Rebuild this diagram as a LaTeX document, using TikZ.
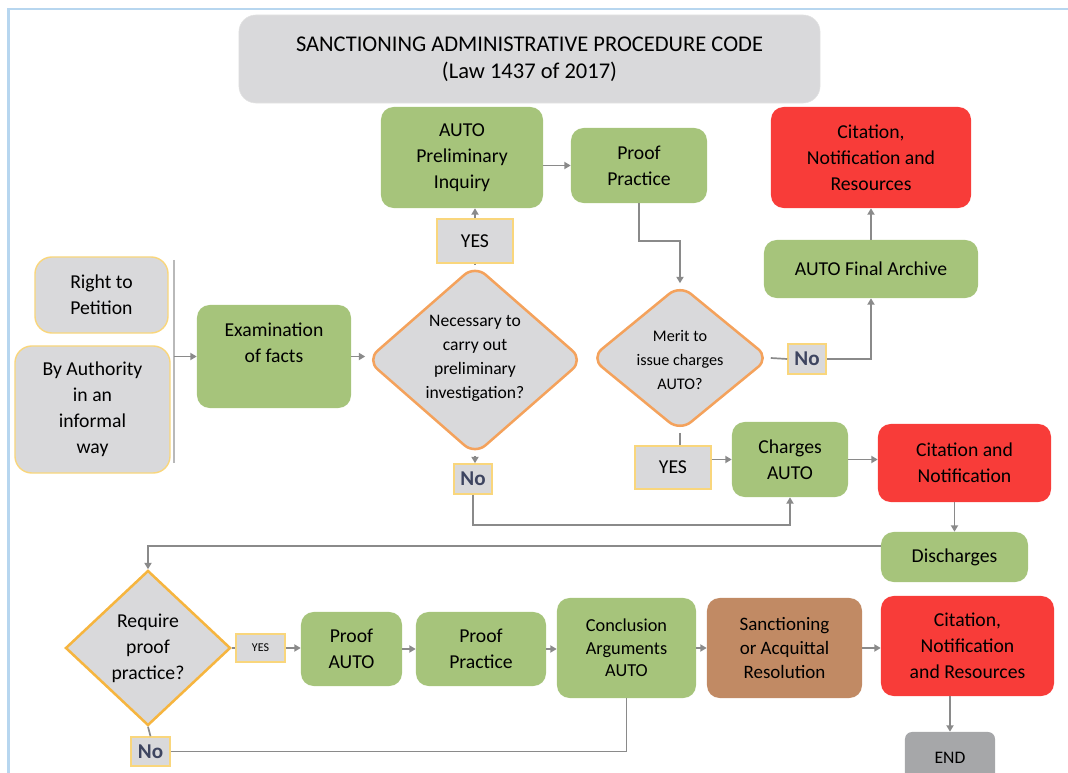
\documentclass[tikz,border=0pt]{standalone}
\usepackage{fontspec}
\setmainfont{Carlito}
\usetikzlibrary{shapes.geometric, arrows.meta}
\definecolor{boxgreen}{HTML}{A6C47B}
\definecolor{boxred}{HTML}{F83C39}
\definecolor{boxgray}{HTML}{D9D9DB}
\definecolor{boxbrown}{HTML}{C18A64}
\definecolor{endgray}{HTML}{A6A7A9}
\definecolor{lineyellow}{HTML}{F9D67C}
\definecolor{lineorange}{HTML}{F4A25C}
\definecolor{linegold}{HTML}{F6B53F}
\definecolor{conngray}{HTML}{8A8A8A}
\definecolor{frameblue}{HTML}{B7D6EF}
\definecolor{notext}{HTML}{3E4560}

\begin{document}
\begin{tikzpicture}[x=0.025cm, y=-0.025cm, >={Triangle[length=4.5pt,width=5pt]},
            every node/.style={align=center, inner sep=0pt, font=\fontsize{14}{18.5}\selectfont},
            titlebox/.style={fill=boxgray, draw=boxgray!85!black!40, rounded corners=12pt, font=\fontsize{16}{19.5}\selectfont},
            startbox/.style={fill=boxgray, draw=lineyellow, line width=1pt, rounded corners=12pt},
            greenbox/.style={fill=boxgreen, rounded corners=9pt},
            redbox/.style={fill=boxred, rounded corners=9pt},
            brownbox/.style={fill=boxbrown, rounded corners=9pt},
            endbox/.style={fill=endgray, rounded corners=5pt, font=\fontsize{12.5}{15}\selectfont},
            tag/.style={fill=boxgray, draw=lineyellow, line width=1.1pt},
            notag/.style={tag, text=notext, font=\fontsize{15}{18}\selectfont\bfseries},
            decision/.style={shape=diamond, fill=boxgray, draw=lineorange, line width=1.8pt, rounded corners=10pt},
            conn/.style={draw=conngray, line width=1.2pt},
            barline/.style={draw=conngray!60, line width=1.4pt}]
            \useasboundingbox (0,0) rectangle (1068,773);
            \draw[frameblue, line width=1.5pt] (8.5,773) -- (8.5,9) -- (1068,9);
            \node (title) at (529.5,59) [titlebox, minimum width=14.525cm, minimum height=2.2cm] {SANCTIONING ADMINISTRATIVE PROCEDURE CODE\\(Law 1437 of 2017)};
            \node (petition) at (101.5,295) [startbox, minimum width=3.325cm, minimum height=1.9cm] {Right to\\Petition};
            \node (authority) at (92.5,409.5) [startbox, minimum width=3.875cm, minimum height=3.175cm] {By Authority\\in an\\informal\\way};
            \coordinate (bartop) at (174,260);
            \coordinate (barbot) at (174,463);
            \node (exam) at (274,356.5) [greenbox, minimum width=3.85cm, minimum height=2.575cm] {};
            \node (examtext) at (274,343) {Examination\\of facts};
            \node (inquiry) at (462,157.5) [greenbox, minimum width=4.05cm, minimum height=2.525cm] {AUTO\\Preliminary\\Inquiry};
            \node (yesinq) at (475,241) [tag, minimum width=1.9cm, minimum height=1.1cm] {YES};
            \node (necessary) at (475,360) [decision, minimum width=5.425cm, minimum height=4.75cm] {};
            \node (necessarytext) at (475,358.5) [font=\fontsize{12.5}{17}\selectfont] {Necessary to\\carry out\\preliminary\\investigation?};
            \node (noinq) at (473,479) [notag, minimum width=0.95cm, minimum height=0.75cm] {No};
            \node (proofa) at (639,165.5) [greenbox, minimum width=3.4cm, minimum height=1.875cm] {Proof\\Practice};
            \node (merit) at (680,358) [decision, minimum width=4.475cm, minimum height=3.675cm] {};
            \node (merittext) at (680,360) [font=\fontsize{11.5}{17}\selectfont] {Merit to\\issue charges\\AUTO?};
            \node (nomerit) at (807,359) [notag, minimum width=0.95cm, minimum height=0.75cm] {No};
            \node (archive) at (871,269) [greenbox, minimum width=5.35cm, minimum height=1.45cm] {AUTO Final Archive};
            \node (citeres) at (871,157.5) [redbox, minimum width=5cm, minimum height=2.525cm] {Citation,\\Notification and\\Resources};
            \node (yesmerit) at (673,467.5) [tag, minimum width=1.9cm, minimum height=1.075cm] {YES};
            \node (charges) at (790,459.5) [greenbox, minimum width=2.9cm, minimum height=1.875cm] {Charges\\AUTO};
            \node (citenot) at (964.5,463) [redbox, minimum width=4.325cm, minimum height=1.95cm] {Citation and\\Notification};
            \node (discharges) at (954.5,557) [greenbox, minimum width=3.675cm, minimum height=1.25cm] {Discharges};
            \node (require) at (148,648) [decision, sharp corners, draw=linegold, minimum width=4.125cm, minimum height=3.875cm] {};
            \node (requiretext) at (148,648) {Require\\proof\\practice?};
            \node (yesreq) at (260.5,648) [tag, font=\fontsize{8.5}{10}\selectfont, minimum width=1.225cm, minimum height=0.7cm] {YES};
            \node (norequire) at (150.5,751.5) [notag, minimum width=0.975cm, minimum height=0.725cm] {No};
            \node (proofauto) at (351.5,649) [greenbox, minimum width=2.525cm, minimum height=1.85cm] {Proof\\AUTO};
            \node (proofb) at (481,649) [greenbox, minimum width=3.25cm, minimum height=1.85cm] {Proof\\Practice};
            \node (conclusion) at (626.5,648) [greenbox, font=\fontsize{13}{16}\selectfont, minimum width=3.475cm, minimum height=2.5cm] {Conclusion\\Arguments\\AUTO};
            \node (resolution) at (784.5,648) [brownbox, font=\fontsize{13.5}{17}\selectfont, minimum width=3.875cm, minimum height=2.5cm] {Sanctioning\\or Acquittal\\Resolution};
            \node (citeend) at (967.5,646) [redbox, minimum width=4.325cm, minimum height=2.5cm] {Citation,\\Notification\\and Resources};
            \node (finish) at (950,758) [endbox, minimum width=2.25cm, minimum height=1.3cm] {END};
            \draw[barline] (bartop) -- (barbot);
            \draw[conn,->] (bartop |- exam.west) -- (exam.west);
            \draw[conn,->] (exam.east) -- (exam.east -| necessary.west);
            \draw[conn] (necessary.north) -- (yesinq.south);
            \draw[conn,->] (yesinq.north) -- (yesinq.north |- inquiry.south);
            \draw[conn,->] (inquiry.east |- proofa.west) -- (proofa.west);
            \draw[conn,->] (proofa.south) -- ++(0,38) -| (merit.north);
            \draw[conn] (merit.east) -- (nomerit.west);
            \draw[conn,->] (nomerit.east) -| (archive.south);
            \draw[conn,->] (archive.north) -- (citeres.south);
            \draw[conn] (merit.south) -- (merit.south |- yesmerit.north);
            \draw[conn,->] (yesmerit.east |- charges.west) -- (charges.west);
            \draw[conn,->] (charges.east) -- (charges.east -| citenot.west);
            \draw[conn,->] (necessary.south) -- (necessary.south |- noinq.north);
            \draw[conn,->] (noinq.south) -- ++(0,30) -| (charges.south);
            \draw[conn,->] (discharges.north |- citenot.south) -- (discharges.north);
            \draw[conn,->] (discharges.west) ++(0,-11) -| (require.north);
            \draw[conn] (require.east) -- (yesreq.west);
            \draw[conn,->] (yesreq.east) -- (yesreq.east -| proofauto.west);
            \draw[conn,->] (proofauto.east) -- (proofauto.east -| proofb.west);
            \draw[conn,->] (proofb.east) -- (proofb.east -| conclusion.west);
            \draw[conn,->] (conclusion.east) -- (conclusion.east -| resolution.west);
            \draw[conn,->] (resolution.east) -- (resolution.east -| citeend.west);
            \draw[conn,->] (finish.north |- citeend.south) -- (finish.north);
            \draw[conn] (require.south) -- (norequire.north);
            \draw[conn] (norequire.east) -| (conclusion.south);
        \end{tikzpicture}
\end{document}
